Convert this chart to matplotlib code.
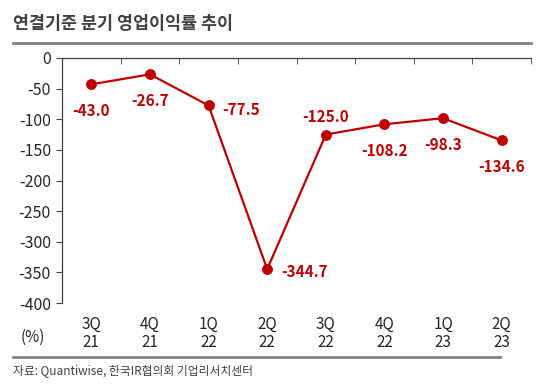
import matplotlib
matplotlib.use("Agg")
import matplotlib.pyplot as plt
from matplotlib.lines import Line2D

plt.rcParams['font.family'] = ['Noto Sans CJK KR', 'DejaVu Sans']

categories = ["3Q\n21", "4Q\n21", "1Q\n22", "2Q\n22", "3Q\n22", "4Q\n22", "1Q\n23", "2Q\n23"]
values = [-43.0, -26.7, -77.5, -344.7, -125.0, -108.2, -98.3, -134.6]
label_pos = ["below", "below", "right", "right", "above", "below", "below", "below"]
yticks = [0, -50, -100, -150, -200, -250, -300, -350, -400]

title = "연결기준 분기 영업이익률 추이"
source = "자료: Quantiwise, 한국IR협의회 기업리서치센터"

W, H = 556, 392
fig = plt.figure(figsize=(W / 100, H / 100), dpi=100)
ax = fig.add_axes([62 / W, 1 - 303 / H, (531 - 62) / W, (303 - 58) / H])

red = "#C00000"
x = [i + 0.5 for i in range(len(values))]
ax.plot(x, values, color=red, lw=1.6, marker="o", ms=6.8, zorder=3)

offsets = {"below": (0, -27, "center"), "above": (0, 18, "center"), "right": (14, -5, "left")}
for xi, v, p in zip(x, values, label_pos):
    dx, dy, ha = offsets[p]
    if p == "right" and v < -300:
        dy = -3
    ax.annotate(f"{v:.1f}", (xi, v), xytext=(dx, dy), textcoords="offset pixels",
                ha=ha, va="center", color=red, fontsize=11, fontweight="bold")

ax.set_xlim(0, len(values))
ax.set_ylim(-400, 0)
ax.set_yticks(yticks)
ax.set_yticklabels([str(t) for t in yticks], fontsize=11.5, color="#262626")
ax.set_xticks(x)
ax.set_xticklabels(categories, fontsize=11, color="#262626", linespacing=1.1)
ax.set_xticks(range(len(values) + 1), minor=True)
ax.tick_params(axis="x", which="major", length=0, pad=9)
ax.tick_params(axis="x", which="minor", top=True, bottom=False, direction="in", length=4, color="#404040")
ax.tick_params(axis="y", length=4, color="#404040", pad=4)

for s in ["right", "bottom"]:
    ax.spines[s].set_visible(False)
for s in ["left", "top"]:
    ax.spines[s].set_color("#404040")
    ax.spines[s].set_linewidth(0.9)

fig.text(13 / W, 1 - 24 / H, title, fontsize=12.5, fontweight="bold", color="#404040", va="center", ha="left")
fig.add_artist(Line2D([13 / W, 531 / W], [1 - 43 / H, 1 - 43 / H], color="#808080", lw=2))
fig.add_artist(Line2D([13 / W, 500 / W], [1 - 357 / H, 1 - 357 / H], color="#808080", lw=2))
fig.text(33 / W, 1 - 337 / H, "(%)", fontsize=11, color="#262626", ha="center", va="center")
fig.text(13 / W, 1 - 371 / H, source, fontsize=8.5, color="#404040", ha="left", va="center")

fig.savefig("out.png", dpi=100)
